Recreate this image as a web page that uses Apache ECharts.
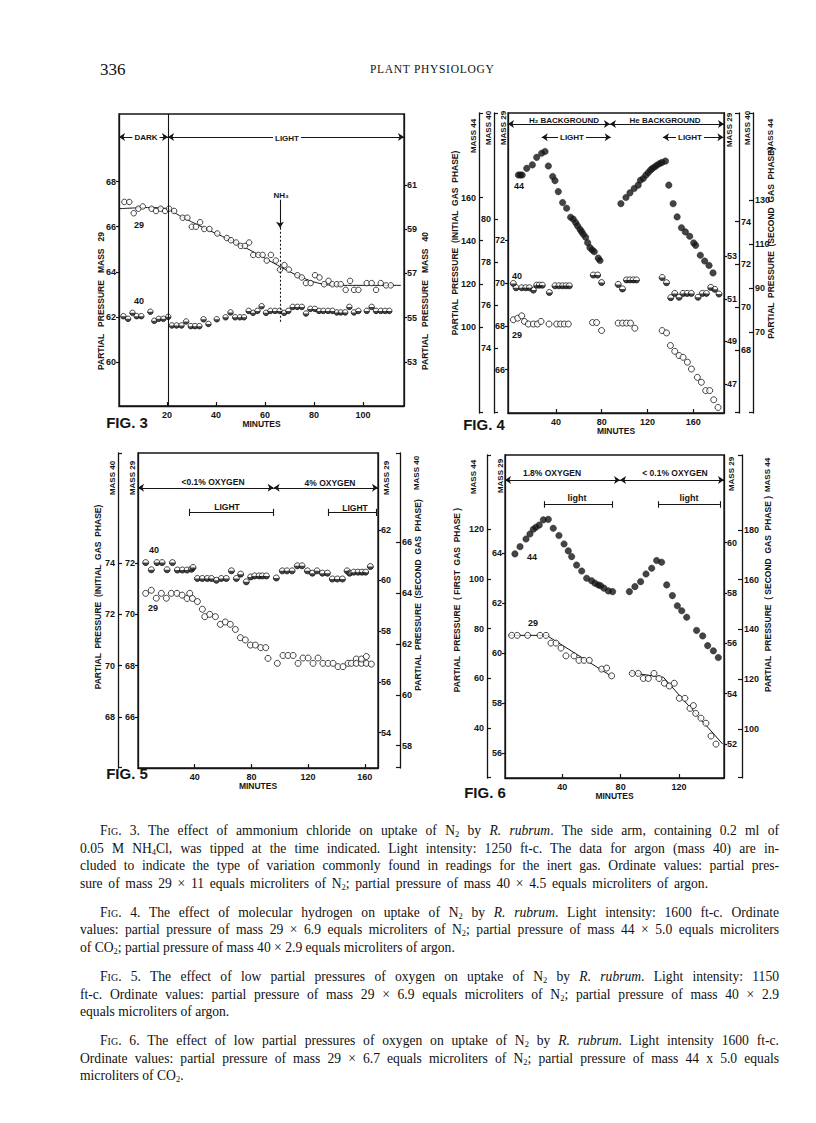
<!DOCTYPE html>
<html><head><meta charset="utf-8">
<script src="https://cdn.jsdelivr.net/npm/echarts@6/dist/echarts.min.js"></script>
<style>
html,body{margin:0;padding:0;background:#fff;}
#chart{position:absolute;left:0;top:0;width:816px;height:1123px;}
.hdr{position:absolute;font-family:"Liberation Serif","Times New Roman",serif;color:#111;}
.cl{position:absolute;left:80px;width:699px;font-family:"Liberation Serif","Times New Roman",serif;font-size:13.6px;line-height:18px;color:#111;white-space:nowrap;text-align:justify;text-align-last:justify;}
.cl.first{left:100px;width:679px;}
.cl.last{text-align:left;text-align-last:left;}
.cl sub{font-size:0.62em;vertical-align:-0.25em;line-height:0;}
.sc{font-variant:small-caps;}
</style></head>
<body>
<div id="chart"></div>
<div class="hdr" style="left:100px;top:60px;font-size:17px;">336</div>
<div class="hdr" style="left:370px;top:63px;font-size:11.5px;letter-spacing:0.7px;">PLANT PHYSIOLOGY</div>
<div id="caps"></div>
<script>
// ---------------- DATA ----------------
// Fig. 3  (minutes, partial pressure)
const fig3XLabels = [20, 40, 60, 80, 100];
const fig3LeftLabels = [60, 62, 64, 66, 68];
const fig3RightLabels = [53, 55, 57, 59, 61];
const fig3Mass29 = [[2.6,67.1],[4.6,67.1],[6.4,66.6],[8.3,66.8],[10.1,66.9],[13.7,66.8],[15.5,66.7],[17.4,66.8],[19.2,66.7],[20.8,66.8],[22.9,66.7],[26.4,66.4],[28.3,66.4],[30.1,66.0],[31.8,66.0],[33.5,66.2],[35.2,65.9],[37.3,65.9],[40.5,65.7],[44.4,65.5],[46.1,65.4],[48.2,65.3],[50.1,65.15],[51.8,65.15],[53.5,65.3],[55.2,64.75],[57.3,64.75],[59.0,64.75],[60.7,64.5],[62.4,64.75],[64.4,64.5],[66.1,64.1],[67.9,64.3],[69.7,64.1],[73.2,63.85],[75.0,63.75],[76.7,63.5],[78.6,63.5],[80.4,63.85],[82.2,63.75],[84.1,63.45],[85.9,63.6],[87.5,63.45],[89.3,63.45],[90.9,63.45],[92.9,63.2],[94.7,63.6],[96.3,63.2],[98.1,63.2],[101.5,63.5],[103.5,63.5],[105.3,63.2],[107.2,63.5],[109.4,63.4],[111.3,63.4]];
const fig3Fit29 = [[0.4,66.8],[12,66.85],[20,66.8],[25,66.5],[35,65.95],[45,65.45],[55,64.9],[65,64.3],[72,63.9],[80,63.55],[88,63.4],[115.5,63.4]];
const fig3Mass40 = [[2.2,55.06],[4.1,54.94],[5.9,55.21],[7.6,55.06],[9.5,55.06],[13.2,55.26],[14.8,54.85],[16.6,54.94],[18.5,54.94],[20.5,55.03],[22.0,54.64],[23.9,54.64],[25.9,54.64],[27.8,54.82],[29.7,54.61],[31.4,54.61],[33.2,54.61],[34.9,54.92],[36.9,54.71],[40.3,54.92],[43.9,55.01],[45.9,55.23],[47.8,55.01],[49.7,55.01],[51.4,55.01],[53.3,55.3],[55.1,55.21],[56.9,55.3],[58.6,55.51],[60.4,55.21],[62.2,55.3],[64.1,55.3],[65.9,55.3],[67.8,55.21],[69.5,55.3],[71.3,55.48],[73.2,55.48],[75.0,55.48],[76.7,55.18],[78.5,55.39],[80.3,55.39],[82.0,55.3],[83.8,55.3],[85.7,55.3],[87.5,55.3],[89.3,55.23],[90.9,55.23],[92.7,55.23],[94.4,55.48],[96.3,55.23],[98.1,55.3],[101.5,55.3],[103.5,55.48],[105.3,55.3],[107.2,55.3],[109.0,55.3],[110.7,55.3]];

// Fig. 4
const fig4XLabels = [40, 80, 120, 160];
const fig4L29Labels = [66, 68, 70, 72];
const fig4L40Labels = [74, 76, 78, 80];
const fig4L44Labels = [100, 120, 140, 160];
const fig4R29Labels = [47, 49, 51, 53];
const fig4R40Labels = [68, 70, 72, 74];
const fig4R44Labels = [70, 90, 110, 130];
const fig4Mass44First = [[7.1,170.5],[8.8,170.5],[10.4,170.5],[14.4,173.6],[19.3,175.2],[23.1,178.7],[27.4,180.6],[30.4,181.4],[33.3,174.7],[37.1,169.8],[39.1,167.9],[42.0,162.8],[45.8,157.7],[49.3,155.1],[52.8,150.9],[55.1,150.0],[57.2,148.4],[58.9,146.9],[61.0,145.3],[62.4,144.2],[63.9,143.0],[65.9,141.6],[67.7,139.1],[69.7,136.8],[71.7,135.7],[73.5,134.9],[77.0,131.9],[78.5,130.8]];
const fig4Mass44Second = [[96.8,128.4],[101.2,131.2],[104.7,133.3],[108.4,135.3],[111.9,136.8],[113.9,139.0],[116.3,139.8],[118.6,141.3],[120.6,142.4],[122.7,143.6],[124.4,144.4],[126.5,145.1],[128.5,145.9],[130.8,146.6],[132.8,147.1],[135.8,147.7],[138.7,136.8],[142.5,128.4],[146.0,122.4],[149.8,117.5],[153.2,115.6],[157.0,113.6],[160.5,110.6],[162.2,109.5],[166.3,105.0],[170.1,102.4],[173.9,100.4],[177.4,97.0]];
const fig4Mass40First = [[2.7,77.02],[5.1,76.82],[10.0,76.82],[13.5,76.82],[16.7,76.82],[20.2,76.71],[23.1,76.94],[25.4,76.94],[28.0,76.94],[34.2,76.6],[39.1,76.91],[42.6,76.91],[45.8,76.91],[48.8,76.91],[51.7,76.91],[72.6,77.41],[76.4,77.41],[79.9,77.06]];
const fig4Mass40Second = [[94.4,71.07],[98.2,70.86],[101.7,71.28],[104.7,71.28],[107.6,71.28],[110.4,71.28],[132.9,71.39],[136.7,71.15],[140.4,70.45],[143.9,70.65],[147.7,70.47],[151.2,70.65],[154.7,70.65],[158.4,70.65],[164.3,70.47],[168.1,70.65],[171.6,70.65],[175.4,70.93],[178.9,70.84],[182.6,70.62]];
const fig4Mass29First = [[2.7,68.31],[6.5,68.38],[10.0,68.49],[12.4,68.23],[15.8,68.11],[20.2,68.11],[23.7,68.11],[26.9,68.23],[33.9,68.11],[40.6,68.11],[44.0,68.11],[47.3,68.11],[50.8,68.11],[72.0,68.18],[75.5,68.18],[79.9,67.81]];
const fig4Mass29Second = [[94.4,49.86],[98.2,49.86],[101.7,49.86],[105.2,49.86],[109.0,49.62],[132.9,49.51],[136.7,49.4],[140.1,48.81],[143.9,48.54],[147.7,48.34],[151.2,48.26],[155.0,48.03],[158.5,47.71],[163.7,47.32],[167.2,47.09],[171.0,46.7],[174.5,46.7],[178.0,46.27],[181.8,45.91]];

// Fig. 5
const fig5XLabels = [40, 80, 120, 160];
const fig5L29Labels = [66, 68, 70, 72];
const fig5L40Labels = [68, 70, 72, 74];
const fig5R29Labels = [54, 56, 58, 60, 62];
const fig5R40Labels = [58, 60, 62, 64, 66];
const fig5Mass40First = [[5.4,74.02],[9.4,73.74],[13.4,74.02],[17.0,74.02],[20.5,73.74],[24.3,74.02],[27.8,73.73],[31.3,73.73],[34.6,73.73],[37.7,73.76],[38.8,73.83],[41.9,73.4],[45.4,73.4],[48.9,73.4],[51.8,73.4],[55.3,73.33],[58.8,73.4],[62.3,73.4],[65.9,73.7],[69.4,73.4],[72.4,73.57],[76.4,73.27],[79.5,73.46],[82.3,73.5],[85.4,73.5],[87.7,73.5],[90.6,73.5]];
const fig5Mass40Second = [[97.6,64.6],[101.8,64.88],[105.1,64.88],[108.7,64.88],[112.4,65.08],[115.7,65.08],[119.5,64.88],[123.0,64.79],[126.3,64.88],[130.1,64.79],[133.6,64.79],[137.1,64.56],[140.6,64.56],[144.2,64.56],[147.5,64.88],[149.3,64.79],[152.2,64.83],[155.2,64.83],[158.0,64.83],[160.6,64.83],[163.9,65.05]];
const fig5Mass29First = [[5.4,70.82],[9.4,70.94],[12.9,70.63],[16.5,70.82],[20.0,70.63],[23.5,70.82],[27.5,70.82],[31.1,70.75],[34.6,70.62],[36.5,70.82],[38.4,70.62],[41.9,70.5],[45.4,70.2],[47.1,69.91],[50.6,70.0],[54.6,69.91],[58.1,69.61],[61.6,69.7],[65.1,69.61],[68.7,69.41],[72.2,69.09],[75.7,69.0],[79.3,68.8],[82.8,68.8],[86.6,68.7],[90.1,68.7],[91.7,68.28]];
const fig5Mass29Second = [[98.3,56.73],[102.3,57.04],[105.8,57.04],[109.4,57.04],[112.9,56.73],[116.4,56.94],[120.0,56.94],[123.5,56.73],[127.0,56.94],[130.5,56.73],[134.1,56.73],[137.6,56.73],[141.1,56.6],[144.6,56.6],[148.2,56.73],[150.5,56.73],[154.0,56.9],[154.0,56.73],[157.6,56.73],[157.6,56.9],[161.1,57.0],[161.1,56.73],[164.6,56.7]];

// Fig. 6
const fig6XLabels = [40, 80, 120];
const fig6L29Labels = [56, 58, 60, 62, 64];
const fig6L44Labels = [40, 60, 80, 100, 120];
const fig6R29Labels = [52, 54, 56, 58, 60];
const fig6R44Labels = [100, 120, 140, 160, 180];
const fig6Mass44First = [[7.5,110.1],[11.0,113.0],[15.1,116.1],[17.8,118.1],[20.1,120.0],[21.9,120.8],[24.2,121.7],[27.0,123.8],[30.4,124.0],[33.8,120.4],[37.7,117.5],[41.2,114.1],[44.1,111.3],[46.4,109.0],[49.8,105.6],[53.3,103.2],[56.7,100.3],[60.1,99.3],[62.4,98.3],[64.7,97.6],[66.3,97.3],[68.6,96.3],[71.6,95.2],[74.5,94.9]];
const fig6Mass44Second = [[86.0,155.2],[89.8,157.2],[93.7,159.2],[97.4,162.3],[101.3,164.6],[104.7,167.7],[108.1,167.0],[111.6,157.9],[115.5,153.6],[118.9,149.5],[121.9,147.5],[125.3,144.9],[132.1,139.6],[136.3,137.4],[139.7,133.5],[143.6,131.4],[147.0,128.7]];
const fig6Mass29First = [[5.3,60.71],[9.1,60.71],[16.2,60.71],[24.7,60.71],[28.8,60.71],[32.2,60.4],[35.7,60.4],[39.1,60.2],[42.5,59.89],[48.0,59.89],[51.4,59.71],[54.9,59.71],[58.5,59.71],[67.0,59.36],[70.4,59.4],[73.8,59.09]];
const fig6Mass29Second = [[88.0,54.8],[92.1,54.8],[95.6,54.6],[99.0,54.6],[102.9,54.8],[106.3,54.6],[110.0,54.41],[113.4,54.3],[116.8,54.41],[120.3,53.81],[124.1,53.81],[127.6,53.41],[129.9,53.52],[131.5,53.21],[135.1,53.02],[138.5,52.82],[142.0,52.31],[145.4,51.99]];
const fig6Fit1 = [[3.0,60.71],[29.3,60.71],[73.8,59.07]];
const fig6Fit2 = [[86.4,54.83],[109.3,54.65],[150.0,51.99]];

// ---------------- STYLE HELPERS ----------------
const BLACK = '#151515';
const SANS = '"Liberation Sans", Arial, sans-serif';
const lbl = {fontFamily: SANS, fontWeight: 'bold', fontSize: 9, color: BLACK};

function xAx(grid, min, max, labels, gap) {
  return {type:'value', gridIndex:grid, min, max, position:'bottom',
    splitLine:{show:false},
    axisLine:{show:true, onZero:false, lineStyle:{color:BLACK, width:1.3}},
    axisTick:{show:true, inside:true, length:4, customValues:labels, lineStyle:{color:BLACK, width:1.2}},
    axisLabel:Object.assign({customValues:labels, margin:4}, lbl),
    name:'MINUTES', nameLocation:'middle', nameGap:gap,
    nameTextStyle:{fontFamily:SANS, fontWeight:'bold', fontSize:8.5, color:BLACK}};
}
function yAx(grid, position, offset, min, max, labels, outer, margin) {
  const eps = (max - min) * 0.002;
  const ticks = outer ? [min + eps].concat(labels, [max - eps]) : labels;
  return {type:'value', gridIndex:grid, position, offset, min, max,
    splitLine:{show:false},
    axisLine:{show:true, onZero:false, lineStyle:{color:BLACK, width:1.3}},
    axisTick:{show:true, inside:!!outer, length: outer ? 4 : 3, customValues:ticks, lineStyle:{color:BLACK, width:1.2}},
    axisLabel:Object.assign({customValues:labels, margin: margin == null ? 3 : margin}, lbl)};
}
function openS(xi, yi, data, size) {
  return {type:'scatter', xAxisIndex:xi, yAxisIndex:yi, data, symbol:'circle', symbolSize:size||6,
    itemStyle:{color:'#fff', borderColor:BLACK, borderWidth:1}, silent:true, z:4};
}
function fillS(xi, yi, data, size) {
  return {type:'scatter', xAxisIndex:xi, yAxisIndex:yi, data, symbol:'circle', symbolSize:size||6,
    itemStyle:{color:BLACK, borderColor:BLACK, borderWidth:0.5}, silent:true, z:4};
}
function halfS(xi, yi, data, size) {
  const s = size || 6;
  return [openS(xi, yi, data, s),
    {type:'scatter', xAxisIndex:xi, yAxisIndex:yi, data, symbol:'path://M0,0 A10,10 0 0,0 20,0 Z',
     symbolSize:[s, s/2], symbolOffset:[0, s/4], itemStyle:{color:BLACK}, silent:true, z:5}];
}
function fitS(xi, yi, data, smooth) {
  return {type:'line', xAxisIndex:xi, yAxisIndex:yi, data, showSymbol:false, symbol:'none', smooth:smooth||false,
    lineStyle:{color:BLACK, width:1}, silent:true, z:3};
}
function seg(x1, y1, x2, y2, s1, s2, dashed) {
  const ls = {color:BLACK, width:1.1, type: dashed ? [2, 2] : 'solid'};
  return [{coord:[x1, y1], symbol:s1||'none', symbolSize:6, lineStyle:ls},
          {coord:[x2, y2], symbol:s2||'none', symbolSize:6, lineStyle:ls}];
}
function marks(xi, yi, segs) {
  return {type:'line', xAxisIndex:xi, yAxisIndex:yi, data:[], silent:true,
    markLine:{silent:true, animation:false, symbol:['none','none'], label:{show:false},
      lineStyle:{color:BLACK, width:1.1, type:'solid'}, data:segs}};
}
function T(x, y, text, size, o) {
  o = o || {};
  const st = {text, fill:BLACK, font:(o.w||'bold') + ' ' + size + 'px ' + SANS,
    textAlign:'center', textVerticalAlign:'middle'};
  if (o.bg) { st.backgroundColor = '#fff'; st.padding = [0, 2]; }
  return {type:'text', x, y, rotation: o.rot ? Math.PI/2 : 0, style:st, z:20, silent:true};
}
const V = {rot:true};

// ---------------- OPTION ----------------
const option = {
  animation:false,
  backgroundColor:'#fff',
  grid:[
    {left:119, top:114, width:285, height:292, show:true, borderColor:BLACK, borderWidth:1.3},
    {left:508, top:113, width:216, height:300, show:true, borderColor:BLACK, borderWidth:1.3},
    {left:138, top:453, width:240, height:315, show:true, borderColor:BLACK, borderWidth:1.3},
    {left:505, top:455, width:219, height:323, show:true, borderColor:BLACK, borderWidth:1.3}
  ],
  xAxis:[
    xAx(0, 0.4, 116.7, fig3XLabels, 12),
    xAx(1, -2, 187, fig4XLabels, 13),
    xAx(2, 0, 169.3, fig5XLabels, 13),
    xAx(3, 0.7, 150.9, fig6XLabels, 13.5)
  ],
  yAxis:[
    yAx(0, 'left', 0, 58.05, 71.0, fig3LeftLabels),        //0
    yAx(0, 'right', 0, 51.0, 64.2, fig3RightLabels),       //1
    yAx(1, 'left', 0, 64.0, 77.86, fig4L29Labels),         //2
    yAx(1, 'left', 14, 71.0, 84.94, fig4L40Labels, true),  //3
    yAx(1, 'left', 29, 60, 199.3, fig4L44Labels, true),    //4
    yAx(1, 'right', 0, 45.65, 59.7, fig4R29Labels),        //5
    yAx(1, 'right', 15, 65.06, 79.08, fig4R40Labels, true, 2),//6
    yAx(1, 'right', 29, 33.5, 169.5, fig4R44Labels, true, 2), //7
    yAx(2, 'left', 0, 64.0, 76.3, fig5L29Labels),          //8
    yAx(2, 'left', 20, 66.0, 78.3, fig5L40Labels, true),   //9
    yAx(2, 'right', 0, 52.6, 65.03, fig5R29Labels),        //10
    yAx(2, 'right', 22, 57.12, 69.52, fig5R40Labels, true, 2),//11
    yAx(3, 'left', 0, 55.0, 67.93, fig6L29Labels),         //12
    yAx(3, 'left', 18, 19.9, 149.9, fig6L44Labels, true),  //13
    yAx(3, 'right', 0, 50.64, 63.49, fig6R29Labels),       //14
    yAx(3, 'right', 18, 80.3, 210.1, fig6R44Labels, true, 2)  //15
  ],
  series:[
    // Fig 3
    fitS(0, 0, fig3Fit29, 0.3),
    openS(0, 0, fig3Mass29, 5.5),
    ...halfS(0, 1, fig3Mass40, 5.5),
    marks(0, 0, [
      seg(20.4, 58.05, 20.4, 71.0),
      seg(0.4, 69.98, 20.4, 69.98, 'arrow', 'arrow'),
      seg(20.4, 69.98, 116.7, 69.98, 'arrow', 'arrow'),
      seg(66.1, 67.2, 66.1, 65.95, 'none', 'arrow'),
      seg(66.1, 65.95, 66.1, 61.77, 'none', 'none', true)
    ]),
    // Fig 4
    fillS(1, 4, fig4Mass44First, 6.5),
    fillS(1, 7, fig4Mass44Second, 6.5),
    ...halfS(1, 3, fig4Mass40First, 6),
    ...halfS(1, 6, fig4Mass40Second, 6),
    openS(1, 2, fig4Mass29First, 6),
    openS(1, 5, fig4Mass29Second, 6),
    marks(1, 2, [
      seg(-2, 77.35, 87.2, 77.35, 'arrow', 'arrow'),
      seg(87.2, 77.35, 187, 77.35, 'arrow', 'arrow'),
      seg(27.5, 76.74, 87.9, 76.74, 'arrow', 'arrow'),
      seg(133.6, 76.74, 186.5, 76.74, 'arrow', 'arrow')
    ]),
    // Fig 5
    ...halfS(2, 9, fig5Mass40First, 6),
    ...halfS(2, 11, fig5Mass40Second, 6),
    openS(2, 8, fig5Mass29First, 6),
    openS(2, 10, fig5Mass29Second, 6),
    marks(2, 8, [
      seg(0, 74.94, 95.7, 74.94, 'arrow', 'arrow'),
      seg(95.7, 74.94, 169.3, 74.94, 'arrow', 'arrow'),
      seg(36.5, 73.98, 95.2, 73.98),
      seg(36.5, 74.12, 36.5, 73.84),
      seg(95.2, 74.12, 95.2, 73.84),
      seg(134, 73.98, 168.2, 73.98),
      seg(134, 74.12, 134, 73.84),
      seg(168.2, 74.12, 168.2, 73.84)
    ]),
    // Fig 6
    fillS(3, 13, fig6Mass44First, 6.5),
    fillS(3, 15, fig6Mass44Second, 6.5),
    fitS(3, 12, fig6Fit1),
    fitS(3, 14, fig6Fit2),
    openS(3, 12, fig6Mass29First, 6),
    openS(3, 14, fig6Mass29Second, 6),
    marks(3, 12, [
      seg(0.7, 66.93, 79.6, 66.93, 'arrow', 'arrow'),
      seg(79.6, 66.93, 150.9, 66.93, 'arrow', 'arrow'),
      seg(27.4, 65.96, 74.3, 65.96),
      seg(27.4, 66.08, 27.4, 65.82),
      seg(74.3, 66.08, 74.3, 65.82),
      seg(105.8, 65.96, 148.1, 65.96),
      seg(105.8, 66.08, 105.8, 65.82),
      seg(148.1, 66.08, 148.1, 65.82)
    ])
  ],
  graphic:[
    // Fig 3
    T(146, 137, 'DARK', 8, {bg:true}),
    T(287, 138, 'LIGHT', 8, {bg:true}),
    T(281, 195, 'NH₃', 8),
    T(139, 225, '29', 9),
    T(139, 301, '40', 9),
    T(101, 301, 'PARTIAL   PRESSURE   MASS   29', 8.5, V),
    T(425, 301, 'PARTIAL   PRESSURE   MASS   40', 8.5, V),
    T(127, 422, 'FIG. 3', 15),
    // Fig 4
    T(564, 120, 'H₂ BACKGROUND', 8),
    T(665, 120, 'He BACKGROUND', 8),
    T(572, 137, 'LIGHT', 8, {bg:true}),
    T(690, 137, 'LIGHT', 8, {bg:true}),
    T(519, 186, '44', 9),
    T(517, 276, '40', 9),
    T(517, 335, '29', 9),
    T(455, 243, 'PARTIAL  PRESSURE  (INITIAL  GAS  PHASE)', 8.5, V),
    T(473, 136, 'MASS 44', 8, V),
    T(488, 128, 'MASS 40', 8, V),
    T(503, 128, 'MASS 29', 8, V),
    T(729, 130, 'MASS 29', 8, V),
    T(747, 128, 'MASS 40', 8, V),
    T(770, 136, 'MASS 44', 8, V),
    T(771, 243, 'PARTIAL  PRESSURE  (SECOND  GAS  PHASE)', 8.5, V),
    T(484, 424, 'FIG. 4', 15),
    // Fig 5
    T(213, 482, '<0.1% OXYGEN', 8.5),
    T(330, 483, '4% OXYGEN', 8.5),
    T(227, 507, 'LIGHT', 8.5),
    T(355, 508, 'LIGHT', 8.5),
    T(154, 550, '40', 9),
    T(153, 608, '29', 9),
    T(98, 597, 'PARTIAL  PRESSURE  (INITIAL  GAS  PHASE)', 8.5, V),
    T(112, 478, 'MASS 40', 8, V),
    T(132, 478, 'MASS 29', 8, V),
    T(386, 478, 'MASS 29', 8, V),
    T(416, 473, 'MASS 40', 8, V),
    T(418, 595, 'PARTIAL  PRESSURE  (SECOND  GAS  PHASE)', 8.5, V),
    T(127, 773, 'FIG. 5', 15),
    // Fig 6
    T(552, 473, '1.8% OXYGEN', 8.5),
    T(675, 473, '< 0.1% OXYGEN', 8.5),
    T(577, 498, 'light', 9),
    T(689, 498, 'light', 9),
    T(532, 557, '44', 9),
    T(533, 623, '29', 9),
    T(457, 600, 'PARTIAL  PRESSURE  ( FIRST  GAS  PHASE )', 8.5, V),
    T(473, 477, 'MASS 44', 8, V),
    T(500, 476, 'MASS 29', 8, V),
    T(731, 474, 'MASS 29', 8, V),
    T(767, 475, 'MASS 44', 8, V),
    T(768, 594, 'PARTIAL  PRESSURE  ( SECOND  GAS  PHASE )', 8.5, V),
    T(485, 792, 'FIG. 6', 15)
  ]
};
const chart = echarts.init(document.getElementById('chart'), null, {renderer:'svg', width:816, height:1123});
chart.setOption(option);

// ---------------- CAPTIONS ----------------
const capLines = [
  [831, 'first', '<span class="sc">Fig</span>. 3. The effect of ammonium chloride on uptake of N<sub>2</sub> by <i>R. rubrum</i>. The side arm, containing 0.2 ml of'],
  [849, '', '0.05 M NH<sub>4</sub>Cl, was tipped at the time indicated. Light intensity: 1250 ft-c. The data for argon (mass 40) are in-'],
  [866, '', 'cluded to indicate the type of variation commonly found in readings for the inert gas. Ordinate values: partial pres-'],
  [884, 'last', 'sure of mass 29 × 11 equals microliters of N<sub>2</sub>; partial pressure of mass 40 × 4.5 equals microliters of argon.', 'word-spacing:2.3px'],
  [913, 'first', '<span class="sc">Fig</span>. 4. The effect of molecular hydrogen on uptake of N<sub>2</sub> by <i>R. rubrum</i>. Light intensity: 1600 ft-c. Ordinate'],
  [930, '', 'values: partial pressure of mass 29 × 6.9 equals microliters of N<sub>2</sub>; partial pressure of mass 44 × 5.0 equals microliters'],
  [948, 'last', 'of CO<sub>2</sub>; partial pressure of mass 40 × 2.9 equals microliters of argon.'],
  [977, 'first', '<span class="sc">Fig</span>. 5. The effect of low partial pressures of oxygen on uptake of N<sub>2</sub> by <i>R. rubrum</i>. Light intensity: 1150'],
  [995, '', 'ft-c. Ordinate values: partial pressure of mass 29 × 6.9 equals microliters of N<sub>2</sub>; partial pressure of mass 40 × 2.9'],
  [1012, 'last', 'equals microliters of argon.'],
  [1041, 'first', '<span class="sc">Fig</span>. 6. The effect of low partial pressures of oxygen on uptake of N<sub>2</sub> by <i>R. rubrum</i>. Light intensity 1600 ft-c.'],
  [1059, '', 'Ordinate values: partial pressure of mass 29 × 6.7 equals microliters of N<sub>2</sub>; partial pressure of mass 44 x 5.0 equals'],
  [1076, 'last', 'microliters of CO<sub>2</sub>.']
];
const caps = document.getElementById('caps');
capLines.forEach(function (c) {
  const d = document.createElement('div');
  d.className = 'cl ' + c[1];
  d.style.top = (c[0] - 9) + 'px';
  if (c[3]) d.style.cssText += ';' + c[3];
  d.innerHTML = c[2];
  caps.appendChild(d);
});
</script>
</body></html>
